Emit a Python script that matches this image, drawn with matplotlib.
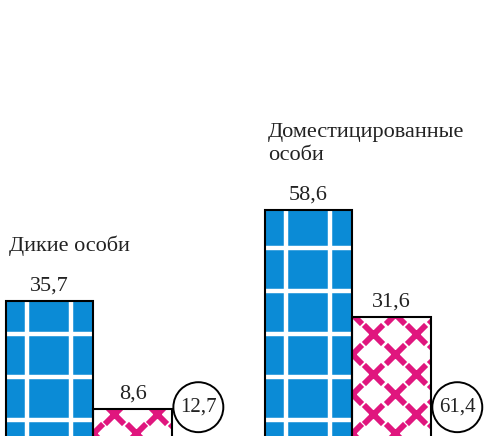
import numpy as np
import matplotlib

matplotlib.use("Agg")
import matplotlib.pyplot as plt  # noqa: E402

# data
groups = ["Дикие особи", "Доместицированные\nособи"]
share_a = [35.7, 58.6]      # blue, grid-patterned bars
share_b = [8.6, 31.6]       # pink-cross bars
share_c = [12.7, 61.4]      # values shown in circles

_BLUE = "#0b8bd6"
_PINK = "#e0167e"
_TEXT = "#222222"


def fmt(v):
    return f"{v:.1f}".replace(".", ",")


plt.rcParams["font.family"] = ["Liberation Serif", "DejaVu Serif"]

fig = plt.figure(figsize=(4.85, 4.36), dpi=100)
ax = fig.add_axes([0, 0, 1, 1])
ax.set_xlim(-0.359, 1.514)
ax.set_ylim(1.76, 111.3)
ax.axis("off")

gx = np.arange(len(groups))
wa, wb = 0.335, 0.307

bars_a = ax.bar(gx - wa, share_a, width=wa, align="edge", color=_BLUE, linewidth=0, zorder=2)
bars_b = ax.bar(gx, share_b, width=wb, align="edge", color="white", linewidth=0, zorder=2)

# white grid inside blue bars
for p in bars_a:
    x0, h = p.get_x(), p.get_height()
    for f in (0.24, 0.75):
        ln, = ax.plot([x0 + f * wa] * 2, [0, h], color="white", lw=3.2, zorder=2.5)
        ln.set_clip_path(p)
    for yy in np.arange(5.7, h, 10.8):
        ln, = ax.plot([x0, x0 + wa], [yy, yy], color="white", lw=3.2, zorder=2.5)
        ln.set_clip_path(p)

# pink crosses inside the second bars
step = 0.083
for p in bars_b:
    x0, h = p.get_x(), p.get_height()
    xs, ys = [], []
    for k, yy in enumerate(np.arange(2.4, h + 3, 5.0)):
        cols = (0, 2, 4) if k % 2 == 0 else (1, 3)
        for c in cols:
            xs.append(x0 + c * step)
            ys.append(yy)
    sc = ax.scatter(xs, ys, marker="x", s=190, linewidths=4.2, color=_PINK, zorder=2.5)
    sc.set_clip_path(p)

# outlines on top
ax.bar(gx - wa, share_a, width=wa, align="edge", fill=False, edgecolor="black",
       linewidth=1.5, zorder=3)
ax.bar(gx, share_b, width=wb, align="edge", fill=False, edgecolor="black",
       linewidth=1.5, zorder=3)

for bars, vals in ((bars_a, share_a), (bars_b, share_b)):
    for p, v in zip(bars, vals):
        ax.annotate(fmt(v), (p.get_x() + p.get_width() / 2, v), xytext=(0, 4),
                    textcoords="offset points", ha="center", va="bottom",
                    fontsize=16, color=_TEXT)

for p, v in zip(bars_b, share_c):
    ax.text(p.get_x() + wb + 0.1, 9.0, fmt(v), ha="center", va="center", fontsize=15,
            color=_TEXT, zorder=4,
            bbox=dict(boxstyle="circle,pad=0.32", fc="white", ec="black", lw=1.4))

for p, v, lab in zip(bars_a, share_a, groups):
    ax.annotate(lab, (p.get_x(), v), xytext=(2, 32), textcoords="offset points",
                ha="left", va="bottom", fontsize=16, color=_TEXT, linespacing=1.3)

fig.savefig("out.png", dpi=100, facecolor="white")
